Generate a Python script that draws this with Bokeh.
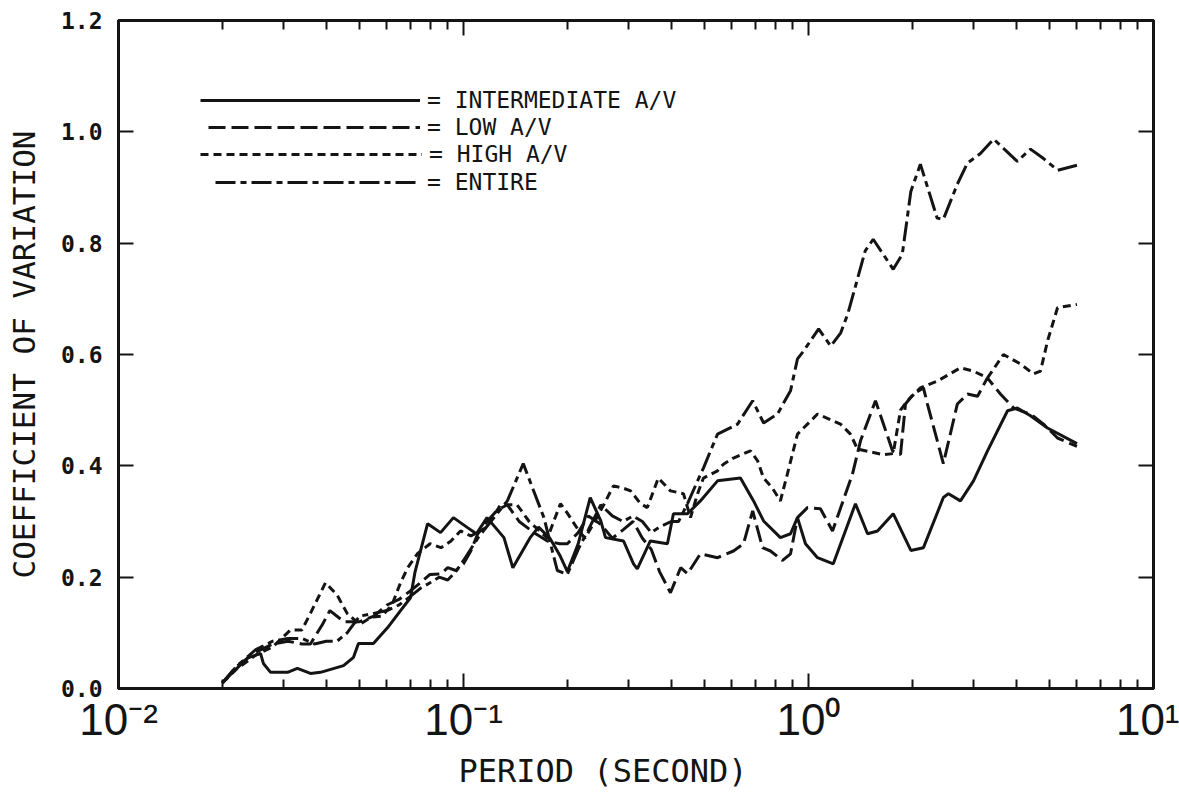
from bokeh.plotting import figure
from bokeh.models import (LogAxis, LinearAxis, Legend, LegendItem, CustomJSTickFormatter,
                          FixedTicker, Title)
from bokeh.embed import file_html
from bokeh.resources import INLINE

# ---------------- data ----------------
period_intermediate = [0.020, 0.0215, 0.0237, 0.0258, 0.0263, 0.0276, 0.0309, 0.033, 0.036, 0.0385,
                       0.0449, 0.048, 0.0496, 0.0548, 0.0602, 0.0657, 0.0702, 0.0724, 0.0787, 0.0858,
                       0.0935, 0.1027, 0.109, 0.117, 0.131, 0.139, 0.156, 0.165, 0.178, 0.19,
                       0.20, 0.215, 0.233, 0.25, 0.258, 0.291, 0.311, 0.319, 0.348, 0.39,
                       0.406, 0.446, 0.486, 0.545, 0.635, 0.693, 0.741, 0.829, 0.887, 0.929,
                       0.98, 1.062, 1.18, 1.368, 1.483, 1.585, 1.76, 1.98, 2.154, 2.46,
                       2.545, 2.757, 3.008, 3.303, 3.775, 4.03, 4.40, 4.929, 6.0]
cv_intermediate = [0.01, 0.03, 0.055, 0.063, 0.045, 0.029, 0.029, 0.036, 0.027, 0.029,
                   0.041, 0.056, 0.081, 0.081, 0.109, 0.14, 0.163, 0.21, 0.296, 0.28,
                   0.307, 0.289, 0.278, 0.307, 0.271, 0.217, 0.271, 0.29, 0.27, 0.24,
                   0.21, 0.26, 0.343, 0.301, 0.271, 0.265, 0.224, 0.215, 0.265, 0.26,
                   0.314, 0.314, 0.337, 0.373, 0.378, 0.337, 0.301, 0.271, 0.278, 0.307,
                   0.26, 0.235, 0.224, 0.332, 0.278, 0.283, 0.314, 0.248, 0.253, 0.343,
                   0.35, 0.337, 0.373, 0.427, 0.499, 0.504, 0.49, 0.468, 0.44]

period_low = [0.020, 0.022, 0.025, 0.028, 0.031, 0.034, 0.036, 0.039, 0.041, 0.045,
              0.050, 0.055, 0.060, 0.065, 0.070, 0.075, 0.080, 0.086, 0.090, 0.095,
              0.100, 0.105, 0.110, 0.117, 0.125, 0.134, 0.145, 0.160, 0.175, 0.190,
              0.200, 0.215, 0.230, 0.250, 0.270, 0.290, 0.310, 0.330, 0.350, 0.370,
              0.398, 0.426, 0.446, 0.486, 0.545, 0.606, 0.648, 0.689, 0.736, 0.776,
              0.841, 0.887, 0.929, 0.993, 1.083, 1.174, 1.341, 1.415, 1.564, 1.752,
              1.848, 1.910, 2.015, 2.154, 2.212, 2.46, 2.70, 2.89, 3.09, 3.30,
              3.60, 3.93, 4.12, 4.40, 4.80, 5.27, 6.0]
cv_low = [0.01, 0.04, 0.065, 0.08, 0.085, 0.08, 0.08, 0.115, 0.14, 0.12,
          0.12, 0.13, 0.15, 0.16, 0.175, 0.19, 0.205, 0.206, 0.217, 0.212,
          0.224, 0.247, 0.278, 0.30, 0.32, 0.33, 0.30, 0.28, 0.265, 0.26,
          0.26, 0.28, 0.31, 0.295, 0.27, 0.285, 0.30, 0.27, 0.25, 0.21,
          0.172, 0.217, 0.206, 0.242, 0.235, 0.247, 0.26, 0.319, 0.253, 0.247,
          0.23, 0.242, 0.307, 0.325, 0.323, 0.283, 0.385, 0.445, 0.517, 0.427,
          0.42, 0.511, 0.529, 0.54, 0.511, 0.404, 0.511, 0.529, 0.525, 0.558,
          0.529, 0.504, 0.499, 0.493, 0.475, 0.45, 0.435]

period_high = [0.020, 0.022, 0.025, 0.028, 0.0315, 0.034, 0.036, 0.0398, 0.043, 0.046,
               0.050, 0.054, 0.058, 0.062, 0.0657, 0.0689, 0.0735, 0.080, 0.086, 0.092,
               0.098, 0.105, 0.117, 0.128, 0.143, 0.155, 0.165, 0.175, 0.191, 0.200,
               0.215, 0.225, 0.240, 0.255, 0.272, 0.290, 0.305, 0.326, 0.341, 0.367,
               0.398, 0.434, 0.455, 0.477, 0.496, 0.545, 0.567, 0.606, 0.679, 0.712,
               0.741, 0.786, 0.829, 0.869, 0.929, 1.062, 1.238, 1.323, 1.387, 1.65,
               1.76, 1.848, 1.936, 2.11, 2.36, 2.757, 3.008, 3.303, 3.674, 4.117,
               4.488, 4.704, 4.929, 5.27, 6.0]
cv_high = [0.01, 0.035, 0.06, 0.075, 0.105, 0.105, 0.135, 0.19, 0.168, 0.135,
           0.115, 0.128, 0.13, 0.15, 0.19, 0.217, 0.242, 0.26, 0.253, 0.265,
           0.283, 0.274, 0.29, 0.33, 0.33, 0.30, 0.285, 0.27, 0.332, 0.315,
           0.285, 0.27, 0.30, 0.33, 0.364, 0.36, 0.355, 0.332, 0.325, 0.378,
           0.355, 0.35, 0.307, 0.35, 0.378, 0.391, 0.403, 0.414, 0.427, 0.409,
           0.378, 0.36, 0.337, 0.386, 0.457, 0.493, 0.475, 0.457, 0.43, 0.42,
           0.422, 0.50, 0.517, 0.54, 0.552, 0.576, 0.57, 0.558, 0.60, 0.583,
           0.565, 0.57, 0.624, 0.684, 0.69]

period_entire = [0.020, 0.022, 0.025, 0.028, 0.031, 0.034, 0.037, 0.040, 0.043, 0.046,
                 0.050, 0.055, 0.060, 0.065, 0.070, 0.075, 0.080, 0.085, 0.090, 0.095,
                 0.100, 0.110, 0.120, 0.134, 0.149, 0.171, 0.187, 0.200, 0.215, 0.230,
                 0.250, 0.270, 0.290, 0.310, 0.330, 0.350, 0.370, 0.400, 0.420, 0.446,
                 0.477, 0.496, 0.520, 0.545, 0.623, 0.689, 0.741, 0.813, 0.887, 0.929,
                 0.967, 1.07, 1.16, 1.24, 1.30, 1.46, 1.54, 1.76, 1.87, 1.98,
                 2.11, 2.36, 2.46, 2.70, 2.89, 3.15, 3.44, 4.03, 4.40, 4.80,
                 5.27, 6.0]
cv_entire = [0.01, 0.04, 0.07, 0.085, 0.09, 0.09, 0.08, 0.085, 0.085, 0.10,
             0.13, 0.135, 0.14, 0.15, 0.165, 0.18, 0.19, 0.20, 0.195, 0.21,
             0.23, 0.27, 0.30, 0.337, 0.404, 0.307, 0.212, 0.205, 0.25, 0.285,
             0.33, 0.31, 0.30, 0.31, 0.30, 0.28, 0.29, 0.30, 0.30, 0.332,
             0.373, 0.396, 0.427, 0.457, 0.475, 0.517, 0.477, 0.493, 0.535, 0.592,
             0.606, 0.646, 0.615, 0.639, 0.673, 0.786, 0.807, 0.753, 0.78, 0.893,
             0.942, 0.845, 0.843, 0.906, 0.944, 0.961, 0.987, 0.947, 0.969, 0.952,
             0.931, 0.94]

series_labels = ["= INTERMEDIATE A/V", "= LOW A/V", "= HIGH A/V", "= ENTIRE"]
x_major_ticks = [0.01, 0.1, 1.0, 10.0]
x_minor_ticks = [0.02, 0.03, 0.04, 0.05, 0.06, 0.07, 0.08, 0.09,
                 0.2, 0.3, 0.4, 0.5, 0.6, 0.7, 0.8, 0.9,
                 2, 3, 4, 5, 6, 7, 8, 9]
y_ticks = [0.0, 0.2, 0.4, 0.6, 0.8, 1.0, 1.2]
y_tick_labels = ["0.0", "0.2", "0.4", "0.6", "0.8", "1.0", "1.2"]
x_title = "PERIOD (SECOND)"
y_title = "COEFFICIENT OF VARIATION"

INK = "#141414"

p = figure(width=1179, height=794, x_axis_type="log", x_range=(0.01, 10), y_range=(0, 1.2),
           output_backend="svg", toolbar_location=None,
           min_border_left=118, min_border_right=26, min_border_top=20, min_border_bottom=106)
p.grid.visible = False
p.outline_line_color = INK
p.outline_line_width = 3
p.background_fill_color = "white"
p.border_fill_color = "white"

sup = CustomJSTickFormatter(code="""
const m = {'-':'\u207B','0':'\u2070','1':'\u00B9','2':'\u00B2','3':'\u00B3'};
const e = Math.round(Math.log10(tick));
return '10' + String(e).split('').map(c => m[c]).join('');
""")
blank = CustomJSTickFormatter(code="return '';")

xa = p.below[0]
xa.ticker = FixedTicker(ticks=x_major_ticks, minor_ticks=x_minor_ticks)
xa.formatter = sup
ya = p.left[0]
ya.ticker = FixedTicker(ticks=y_ticks)
ya.major_label_overrides = {t: l for t, l in zip(y_ticks, y_tick_labels)}
ya.axis_label = y_title

top = LogAxis(ticker=FixedTicker(ticks=x_major_ticks, minor_ticks=x_minor_ticks), formatter=blank)
right = LinearAxis(ticker=FixedTicker(ticks=y_ticks), formatter=blank)
p.add_layout(top, "above")
p.add_layout(right, "right")

for ax in (xa, ya, top, right):
    ax.axis_line_color = INK
    ax.axis_line_width = 3
    ax.major_tick_line_color = INK
    ax.major_tick_line_width = 2
    ax.minor_tick_line_color = INK
    ax.minor_tick_line_width = 2
    ax.major_tick_in = 15
    ax.major_tick_out = 0
    ax.minor_tick_in = 9
    ax.minor_tick_out = 0
for ax in (ya, right):
    ax.minor_tick_line_color = None

xa.major_label_text_font = "Liberation Sans"
xa.major_label_text_font_size = "44px"
xa.major_label_text_color = INK
xa.major_label_standoff = 6

ya.major_label_text_font = "DejaVu Sans Mono"
ya.major_label_text_font_style = "bold"
ya.major_label_text_font_size = "23px"
ya.major_label_text_color = INK
ya.major_label_standoff = 16
ya.axis_label_text_font = "DejaVu Sans Mono"
ya.axis_label_text_font_size = "31px"
ya.axis_label_text_font_style = "normal"
ya.axis_label_text_color = INK
ya.axis_label_standoff = 16

# x-axis title placed below the tick labels, left-aligned as in the reference
xtitle = Title(text=x_title, align="left", offset=340, text_font="DejaVu Sans Mono",
               text_font_size="32px", text_font_style="normal", text_color=INK,
               standoff=6)
p.add_layout(xtitle, "below")

r1 = p.line(period_intermediate, cv_intermediate, line_color=INK, line_width=3)
r2 = p.line(period_low, cv_low, line_color=INK, line_width=3, line_dash="17 6")
r3 = p.line(period_high, cv_high, line_color=INK, line_width=3, line_dash="8 5")
r4 = p.line(period_entire, cv_entire, line_color=INK, line_width=3, line_dash="20 5 6 5")

# one legend box per row so each row sits where the reference puts it
rows = [(r1, series_labels[0], 82, 575, 220),
        (r2, series_labels[1], 90, 548, 212),
        (r3, series_labels[2], 82, 521, 222),
        (r4, series_labels[3], 97, 493, 205)]
for rend, lab, vx, vy, gw in rows:
    lg = Legend(items=[LegendItem(label=lab, renderers=[rend])],
                location=(vx, vy), glyph_width=gw, glyph_height=26, label_height=26,
                spacing=0, padding=0, margin=0, label_standoff=7,
                border_line_color=None, background_fill_alpha=0,
                label_text_font="DejaVu Sans Mono", label_text_font_size="23px",
                label_text_color=INK)
    p.add_layout(lg)

open("out.html", "w").write(file_html(p, INLINE))
